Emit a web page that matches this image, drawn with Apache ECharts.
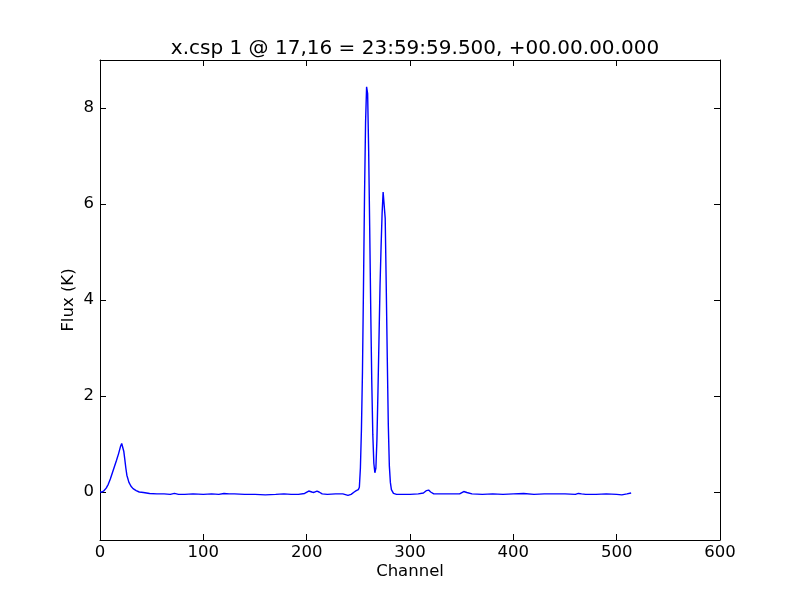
<!DOCTYPE html>
<html>
<head>
<meta charset="utf-8">
<script src="https://cdn.jsdelivr.net/npm/echarts@6/dist/echarts.min.js"></script>
<style>html,body{margin:0;padding:0;background:#fff;}#c{width:800px;height:600px;}</style>
</head>
<body>
<div id="c"></div>
<script>
var titleText = 'x.csp 1 @ 17,16 = 23:59:59.500, +00.00.00.000';
var channels = [0,2,4,6,8,10,12,14,16,18,20,21,22,23,24,25,26,28,30,32,35,38,42,48,55,62,68,72,76,82,90,100,108,115,120,125,130,140,150,160,170,178,185,192,198,202,205,207,210,212,215,220,228,235,240,243,246,248,250,251,252,253,254,255,256,257,258,259,260,261,262,263,264,265,266,267,268,269,270,271,272,273,274,275,276,277,278,279,280,281,282,284,287,292,300,308,313,316,318,320,323,330,340,348,352,355,360,370,380,390,400,410,420,430,440,450,460,463,466,470,480,490,500,505,510,514];
var flux = [0.0,0.0,0.03,0.08,0.16,0.27,0.4,0.53,0.66,0.8,0.96,1.01,0.98,0.85,0.68,0.5,0.35,0.2,0.12,0.07,0.03,0.0,-0.01,-0.03,-0.04,-0.04,-0.05,-0.03,-0.05,-0.05,-0.04,-0.05,-0.04,-0.05,-0.03,-0.04,-0.04,-0.05,-0.05,-0.06,-0.05,-0.04,-0.05,-0.05,-0.03,0.02,0.0,-0.01,0.02,0.0,-0.04,-0.05,-0.04,-0.04,-0.07,-0.05,0.0,0.03,0.05,0.1,0.5,1.3,2.5,4.3,6.2,7.7,8.44,8.3,7.1,5.5,3.8,2.3,1.2,0.6,0.4,0.5,1.1,2.1,3.2,4.3,5.1,5.8,6.25,6.25,5.7,4.3,2.8,1.4,0.55,0.2,0.05,-0.03,-0.05,-0.05,-0.05,-0.04,-0.02,0.03,0.04,0.0,-0.04,-0.04,-0.04,-0.04,0.01,-0.01,-0.04,-0.05,-0.04,-0.05,-0.04,-0.03,-0.05,-0.04,-0.04,-0.04,-0.05,-0.03,-0.04,-0.05,-0.05,-0.04,-0.05,-0.06,-0.04,-0.02];
var xTicks = [0,100,200,300,400,500,600];
var yTicks = [0,2,4,6,8];
var xName = 'Channel';
var yName = 'Flux (K)';

var pts = channels.map(function(c,i){return [c, flux[i]];});
var font = 'DejaVu Sans';
var fs = 16.5;
var axisLineStyle = {color:'#000', width:1};
function mkX(show, pos){
  return {type:'value', position:pos, min:0, max:600,
    axisLine:{show:true, onZero:false, lineStyle:axisLineStyle},
    axisTick:{show:true, inside:true, length:6, customValues:xTicks, lineStyle:{color:'#000'}},
    axisLabel:{show:show, customValues:xTicks, color:'#000', fontFamily:font, fontSize:fs, margin:4},
    splitLine:{show:false},
    name: show ? xName : '', nameLocation:'middle', nameGap:23, nameMoveOverlap:false,
    nameTextStyle:{color:'#000', fontFamily:font, fontSize:fs}};
}
function mkY(show, pos){
  return {type:'value', position:pos, min:-1, max:9,
    axisLine:{show:true, onZero:false, lineStyle:axisLineStyle},
    axisTick:{show:true, inside:true, length:6, customValues:yTicks, lineStyle:{color:'#000'}},
    axisLabel:{show:show, customValues:yTicks, color:'#000', fontFamily:font, fontSize:fs, margin:6},
    splitLine:{show:false},
    name: show ? yName : '', nameLocation:'middle', nameGap:23, nameMoveOverlap:false,
    nameTextStyle:{color:'#000', fontFamily:font, fontSize:fs}};
}
var chart = echarts.init(document.getElementById('c'), null, {renderer:'canvas'});
chart.setOption({
  animation:false,
  backgroundColor:'#fff',
  title:{text:titleText, left:410, textAlign:'center', top:34, textStyle:{color:'#000', fontFamily:font, fontSize:20, fontWeight:'normal'}},
  grid:{left:100, right:80, top:60, bottom:60, containLabel:false},
  xAxis:[mkX(true,'bottom'), mkX(false,'top')],
  yAxis:[mkY(true,'left'), mkY(false,'right')],
  series:[{type:'line', data:pts, xAxisIndex:0, yAxisIndex:0, showSymbol:false, smooth:false,
    lineStyle:{color:'#0000ff', width:1.4}, itemStyle:{color:'#0000ff'}}]
});
</script>
</body>
</html>
